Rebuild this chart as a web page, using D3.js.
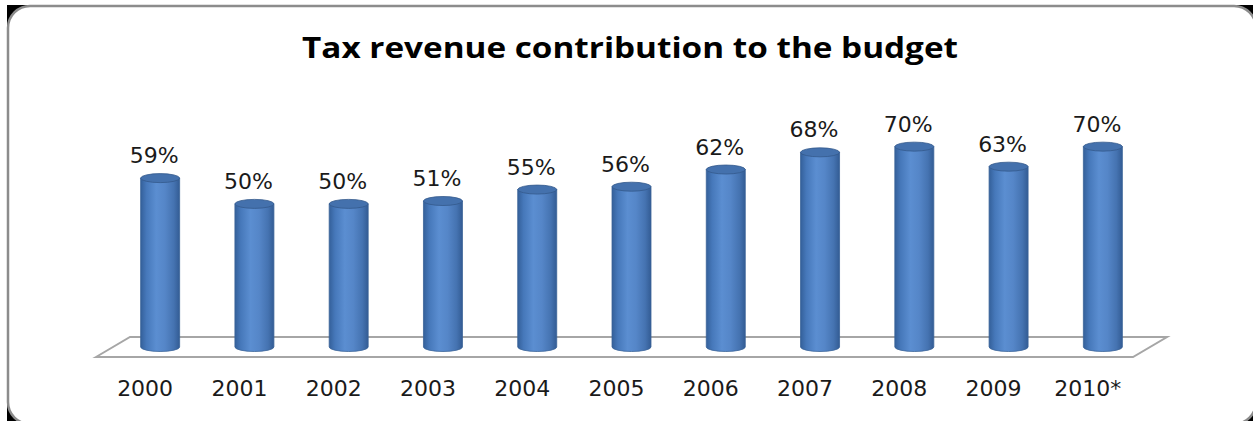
<!DOCTYPE html>
<html>
<head>
<meta charset="utf-8">
<script src="https://cdn.jsdelivr.net/npm/d3@7"></script>
<style>
  body { margin: 0; background: #fff; }
  svg { display: block; }
</style>
</head>
<body>
<div id="chart"></div>
<script>
const title = "Tax revenue contribution to the budget";
const years = ["2000", "2001", "2002", "2003", "2004", "2005", "2006", "2007", "2008", "2009", "2010*"];
const shares = [0.59, 0.50, 0.50, 0.51, 0.55, 0.56, 0.62, 0.68, 0.70, 0.63, 0.70];

const width = 1253;
const height = 421;

const svg = d3.select("#chart")
    .append("svg")
    .attr("width", width)
    .attr("height", height);

// gradient for the cylinder body
const defs = svg.append("defs");
const grad = defs.append("linearGradient")
    .attr("id", "cyl")
    .attr("x1", "0%").attr("x2", "100%")
    .attr("y1", "0%").attr("y2", "0%");
[["0%", "#34609a"], ["15%", "#4678ba"], ["40%", "#5b8ed1"], ["62%", "#5586c8"], ["85%", "#4573b1"], ["100%", "#335c94"]]
    .forEach(s => grad.append("stop").attr("offset", s[0]).attr("stop-color", s[1]));

// frame: dark corners behind a rounded white panel (right/bottom edges run off the picture)
svg.append("rect")
    .attr("x", 7).attr("y", 5)
    .attr("width", width - 7).attr("height", height - 5)
    .attr("fill", "#000");
svg.append("rect")
    .attr("x", 8).attr("y", 6)
    .attr("width", 1248).attr("height", 418)
    .attr("rx", 22).attr("ry", 22)
    .attr("fill", "#fff")
    .attr("stroke", "#8c8c8c")
    .attr("stroke-width", 2.5);

// title
svg.append("text")
    .attr("x", 630)
    .attr("y", 58)
    .attr("text-anchor", "middle")
    .attr("font-family", "Open Sans")
    .attr("font-weight", "bold")
    .attr("font-size", 28)
    .attr("textLength", 656)
    .attr("lengthAdjust", "spacingAndGlyphs")
    .attr("fill", "#000")
    .text(title);

const x = d3.scaleBand()
    .domain(years)
    .range([113, 1150])
    .padding(0);

const y = d3.scaleLinear()
    .domain([0, 0.8])
    .range([347, 118]);

const depthX = 17, depthY = 10;
const base = y(0);
const [r0, r1] = x.range();

// floor
svg.append("path")
    .attr("d", d3.line()([
        [r0 - depthX, base + depthY],
        [r0 + depthX, base - depthY],
        [r1 + depthX, base - depthY],
        [r1 - depthX, base + depthY]
    ]) + "Z")
    .attr("fill", "#fff")
    .attr("stroke", "#a6a6a6")
    .attr("stroke-width", 2);

const barW = 39;
const ry = 4.5;

const bars = svg.append("g")
    .selectAll("g")
    .data(years.map((d, i) => ({ year: d, value: shares[i] })))
    .join("g");

// cylinder body with rounded bottom
bars.append("path")
    .attr("d", d => {
        const cx = x(d.year) + x.bandwidth() / 2;
        const x0 = cx - barW / 2, x1 = cx + barW / 2;
        const yt = y(d.value);
        return `M${x0},${yt} L${x0},${base} A${barW / 2},${ry} 0 0 0 ${x1},${base} L${x1},${yt} Z`;
    })
    .attr("fill", "url(#cyl)")
    .attr("stroke", "#3a6398")
    .attr("stroke-width", 0.8);

// cylinder top
bars.append("ellipse")
    .attr("cx", d => x(d.year) + x.bandwidth() / 2)
    .attr("cy", d => y(d.value))
    .attr("rx", barW / 2)
    .attr("ry", ry)
    .attr("fill", "#4471ad")
    .attr("stroke", "#34598b")
    .attr("stroke-width", 0.8);

// value labels
bars.append("text")
    .attr("x", d => x(d.year) + x.bandwidth() / 2 - 6)
    .attr("y", d => y(d.value) - 15)
    .attr("text-anchor", "middle")
    .attr("font-family", "DejaVu Sans")
    .attr("font-size", 22)
    .attr("fill", "#1a1a1a")
    .text(d => d3.format(".0%")(d.value));

// category labels
svg.append("g")
    .selectAll("text")
    .data(years)
    .join("text")
    .attr("x", d => x(d) + x.bandwidth() / 2 - 15)
    .attr("y", 396)
    .attr("text-anchor", "middle")
    .attr("font-family", "DejaVu Sans")
    .attr("font-size", 22)
    .attr("fill", "#1a1a1a")
    .text(d => d);
</script>
</body>
</html>
